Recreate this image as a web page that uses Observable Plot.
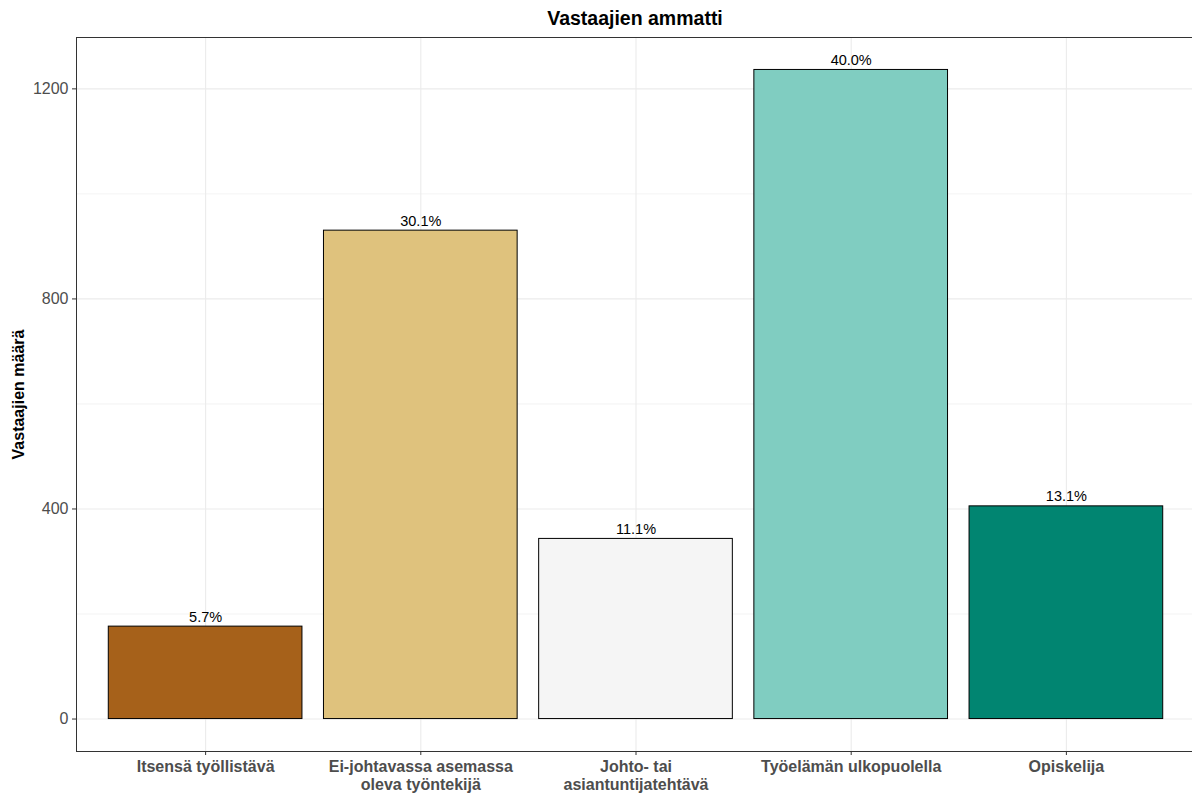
<!DOCTYPE html>
<html>
<head>
<meta charset="utf-8">
<script src="https://cdn.jsdelivr.net/npm/d3@7"></script>
<script src="https://cdn.jsdelivr.net/npm/@observablehq/plot@0.6"></script>
<style>
  html, body { margin: 0; padding: 0; background: #fff; overflow: hidden; }
  #wrap { position: relative; width: 1192px; height: 794px; overflow: hidden; }
  #title {
    position: absolute; left: 76px; width: 1118px; top: 0; height: 36px;
    text-align: center; font: bold 19.5px "Liberation Sans", Arial, sans-serif;
    line-height: 36px; color: #000; z-index: 2;
  }
  #chart { position: absolute; left: 0; top: 0; width: 1195px; }
</style>
</head>
<body>
<div id="wrap">
  <div id="title">Vastaajien ammatti</div>
  <div id="chart"></div>
</div>
<script>
// Respondents by occupation
const categories = [
  "Itsensä työllistävä",
  "Ei-johtavassa asemassa\noleva työntekijä",
  "Johto- tai\nasiantuntijatehtävä",
  "Työelämän ulkopuolella",
  "Opiskelija"
];
const counts = [176, 930, 343, 1236, 405];
const colors = ["#a6611a", "#dfc27d", "#f5f5f5", "#80cdc1", "#018571"];
const yTicks = [0, 400, 800, 1200];
const yMinor = [200, 600, 1000];

const total = d3.sum(counts);
const data = categories.map((c, i) => ({
  category: c,
  count: counts[i],
  label: (100 * counts[i] / total).toFixed(1) + "%"
}));

// 5% expansion on both sides of the value range
const pad = d3.max(counts) * 0.05;
const font = "Liberation Sans, Arial, sans-serif";

const chart = Plot.plot({
  width: 1195,
  height: 794,
  marginTop: 37,
  marginBottom: 43,
  marginLeft: 76,
  marginRight: 0,
  style: { fontFamily: font, background: "transparent", maxWidth: "none" },
  x: { domain: categories, paddingInner: 0.1, paddingOuter: 0.15, round: false, label: null },
  y: { domain: [-pad, d3.max(counts) + pad], label: null },
  color: { domain: categories, range: colors },
  marks: [
    Plot.ruleY(yMinor, { stroke: "#ebebeb", strokeWidth: 0.6 }),
    Plot.ruleY(yTicks, { stroke: "#ebebeb", strokeWidth: 1.1 }),
    Plot.ruleX(categories, { x: d => d, stroke: "#ebebeb", strokeWidth: 1.1 }),
    Plot.barY(data, {
      x: "category", y: "count", fill: "category",
      stroke: "#000", strokeWidth: 1
    }),
    Plot.text(data, {
      x: "category", y: "count", text: "label",
      lineAnchor: "bottom", dy: -5, fontSize: 14.5, fill: "#000"
    }),
    Plot.frame({ stroke: "#333", strokeWidth: 1 }),
    // y axis: ticks and numbers
    Plot.axisY({ ticks: yTicks, tickSize: 4, text: null, label: null, stroke: "#333" }),
    Plot.axisY({ ticks: yTicks, tickSize: 0, tickPadding: 8, label: null,
                 tickFormat: d => String(d), fill: "#4d4d4d", fontSize: 16 }),
    // x axis: ticks and category names
    Plot.axisX({ tickSize: 4, text: null, label: null, stroke: "#333" }),
    Plot.axisX({ tickSize: 0, tickPadding: 8, label: null, fill: "#4d4d4d",
                 fontSize: 16, fontWeight: "bold", lineHeight: 1.1 }),
    // y axis title
    Plot.text(["Vastaajien määrä"], {
      frameAnchor: "left", rotate: -90, dx: -58, text: d => d,
      fontSize: 16, fontWeight: "bold", fill: "#000", textAnchor: "middle"
    })
  ]
});

document.getElementById("chart").appendChild(chart);
</script>
</body>
</html>
